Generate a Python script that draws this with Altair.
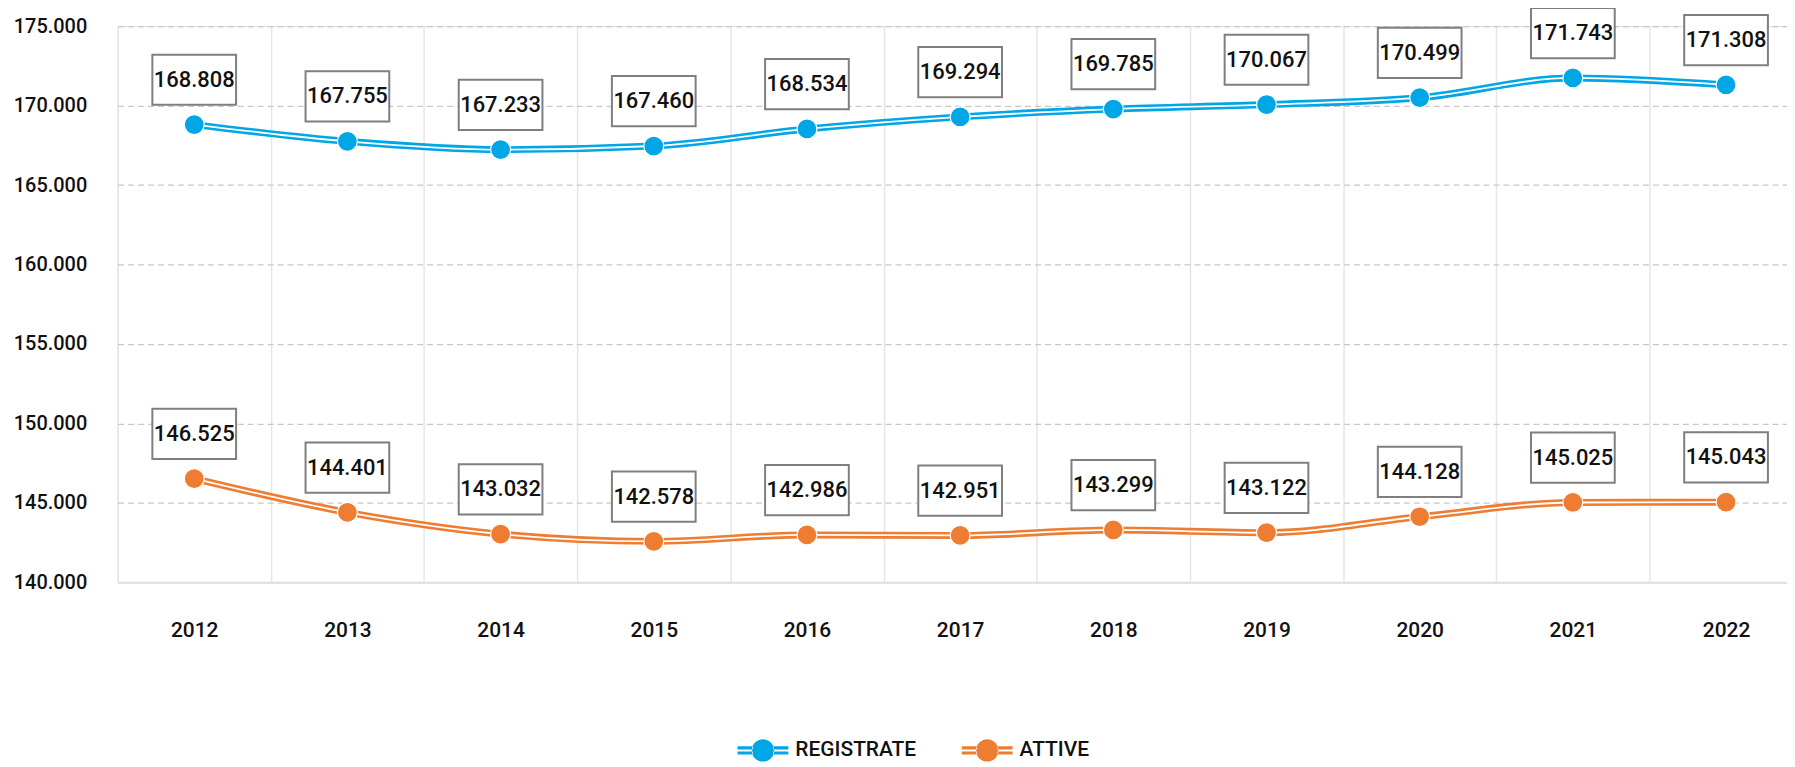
import altair as alt
import pandas as pd

years = ["2012", "2013", "2014", "2015", "2016", "2017", "2018", "2019", "2020", "2021", "2022"]
registrate = [168808, 167755, 167233, 167460, 168534, 169294, 169785, 170067, 170499, 171743, 171308]
attive = [146525, 144401, 143032, 142578, 142986, 142951, 143299, 143122, 144128, 145025, 145043]
series_names = ["REGISTRATE", "ATTIVE"]
series_colors = ["#00A6E6", "#EE7D31"]
y_ticks = [140000, 145000, 150000, 155000, 160000, 165000, 170000, 175000]

rows = []
for name, vals in zip(series_names, [registrate, attive]):
    for yr, v in zip(years, vals):
        rows.append({"year": yr, "series": name, "value": v,
                     "label": f"{v:,}".replace(",", ".")})
df = pd.DataFrame(rows)

FONT = "Roboto"
band = 153.7

x = alt.X("year:N", sort=years,
          scale=alt.Scale(domain=years, range=[0, band * len(years)], paddingInner=0, paddingOuter=0),
          axis=alt.Axis(title=None, labelAngle=0, tickBand="extent", ticks=False,
                        grid=True, gridColor="#e6e6e6", gridWidth=1.5,
                        domain=True, domainColor="#e0e0e0", domainWidth=2,
                        labelFont=FONT, labelFontSize=21, labelFontWeight=500,
                        labelColor="#111", labelPadding=37))
y = alt.Y("value:Q",
          scale=alt.Scale(domain=[140000, 175000], nice=False, zero=False),
          axis=alt.Axis(title=None, values=y_ticks, ticks=False, domain=False,
                        grid=True, gridColor="#c8c8c8", gridDash=[6, 4], gridWidth=1.2,
                        labelExpr="replace(format(datum.value, ','), ',', '.')",
                        labelFont=FONT, labelFontSize=20, labelFontWeight=500,
                        labelColor="#111", labelPadding=31))

color_scale = alt.Scale(domain=series_names, range=series_colors)

legend_path = ("M-1,-0.16H-0.4V-0.04H-1Z M-1,0.04H-0.4V0.16H-1Z "
               "M0.4,-0.16H1V-0.04H0.4Z M0.4,0.04H1V0.16H0.4Z "
               "M-0.44,0A0.44,0.44 0 1,0 0.44,0A0.44,0.44 0 1,0 -0.44,0Z")

legend = alt.Legend(title=None, orient="none", direction="horizontal",
                    legendX=622, legendY=701,
                    symbolType=legend_path, symbolSize=2601,
                    symbolStrokeWidth=0, symbolOpacity=1,
                    labelFont=FONT, labelFontSize=21, labelFontWeight=500,
                    labelColor="#111", labelOffset=7, columnPadding=45)

base = alt.Chart(df)

layers = []
for name, col in zip(series_names, series_colors):
    sub = base.transform_filter(alt.datum.series == name)
    layers.append(sub.mark_line(interpolate="monotone", strokeWidth=7, color=col).encode(x=x, y=y))
    layers.append(sub.mark_line(interpolate="monotone", strokeWidth=1.8, color="white").encode(x=x, y=y))

points = base.mark_circle(size=400, opacity=1, stroke="white", strokeWidth=1.2).encode(
    x=x, y=y,
    color=alt.Color("series:N", scale=color_scale, legend=legend))

boxes = base.mark_point(shape="M-1,-0.6H1V0.6H-1Z", size=7056, filled=True, fill="white",
                        stroke="#7f7f7f", strokeWidth=2, opacity=1, yOffset=-45).encode(
    x=x, y=y)

labels = base.mark_text(font=FONT, fontSize=22, fontWeight=500, color="#111",
                        baseline="middle", yOffset=-45).encode(
    x=x, y=y, text="label:N")

chart = alt.layer(*layers, points, boxes, labels).properties(
    width=1675, height=558,
    padding={"left": 110, "top": 17, "right": 0, "bottom": 180},
    autosize=alt.AutoSizeParams(type="none"),
).configure_view(stroke=None).configure(background="white")

chart.save("out.html", embed_options={"renderer": "svg", "actions": False})
